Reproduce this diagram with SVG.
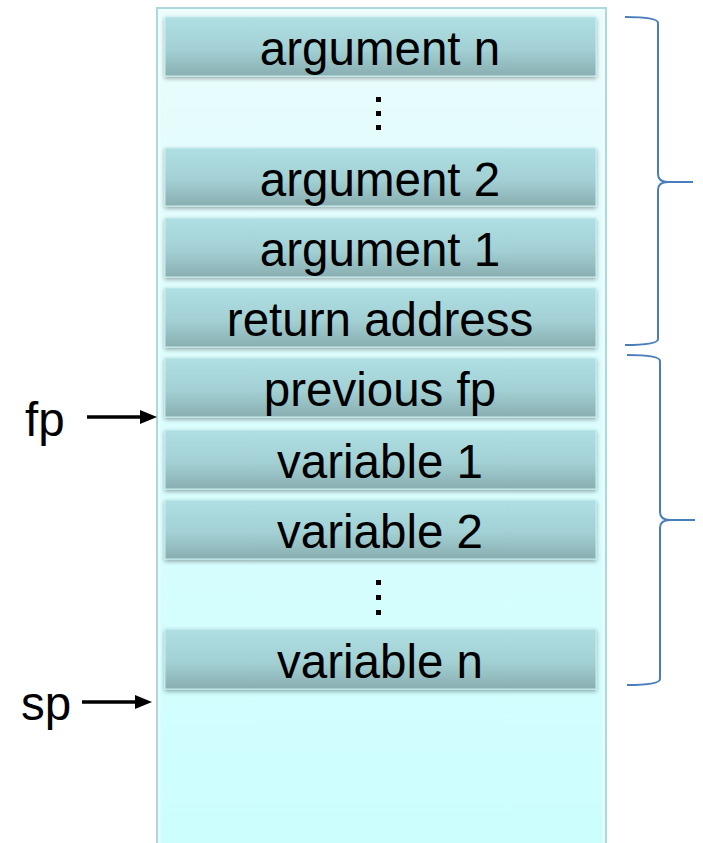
<svg xmlns="http://www.w3.org/2000/svg" width="703" height="843" viewBox="0 0 703 843">
  <defs>
    <linearGradient id="stackFill" x1="0" y1="0" x2="0" y2="1">
      <stop offset="0" stop-color="#eafcfc"/>
      <stop offset="1" stop-color="#ccfefe"/>
    </linearGradient>
    <linearGradient id="slotFill" x1="0" y1="0" x2="0" y2="1">
      <stop offset="0" stop-color="#b0e0e4"/>
      <stop offset="0.55" stop-color="#a2d0d4"/>
      <stop offset="1" stop-color="#89aeb1"/>
    </linearGradient>
    <filter id="slotShadow" x="-5%" y="-20%" width="110%" height="150%">
      <feGaussianBlur in="SourceAlpha" stdDeviation="2"/>
      <feOffset dx="0" dy="2" result="b"/>
      <feComponentTransfer><feFuncA type="linear" slope="0.35"/></feComponentTransfer>
      <feMerge><feMergeNode/><feMergeNode in="SourceGraphic"/></feMerge>
    </filter>
    <!-- pointer head: 17 long, 14 wide; tip sits 10px past the line end -->
    <marker id="arrowHead" viewBox="0 0 17 14" refX="7" refY="7" markerWidth="17" markerHeight="14" markerUnits="userSpaceOnUse" orient="auto">
      <path d="M0,0 L17,7 L0,14 Z" fill="#000"/>
    </marker>
  </defs>
  <style>
    .slot rect { fill: url(#slotFill); stroke: #c8eef0; stroke-width: 1; filter: url(#slotShadow); }
    .slot text, .label { font-family: "Liberation Sans", Arial, sans-serif; font-size: 47.5px; fill: #000; }
    .slot text { text-anchor: middle; }
    .dots rect { fill: #000; }
    .brace { fill: none; stroke: #4a7ebb; stroke-width: 2; }
    .pointer { stroke: #000; stroke-width: 3.5; marker-end: url(#arrowHead); }
  </style>

  <rect width="703" height="843" fill="#fff"/>

  <!-- stack frame column -->
  <g id="stack">
    <rect x="157" y="8" width="449" height="840" fill="url(#stackFill)" stroke="#aed9dc" stroke-width="2"/>
    <rect x="159.5" y="10.5" width="444" height="840" fill="none" stroke="#f4ffff" stroke-width="1.5"/>
  </g>

  <g id="arg-n" class="slot"><rect x="165" y="17" width="431" height="59"/><text x="380" y="65">argument n</text></g>
  <g id="dots-top" class="dots"><rect x="376" y="97" width="5" height="5"/><rect x="376" y="111" width="5" height="5"/><rect x="376" y="125" width="5" height="5"/></g>
  <g id="arg-2" class="slot"><rect x="165" y="148" width="431" height="58"/><text x="380" y="196">argument 2</text></g>
  <g id="arg-1" class="slot"><rect x="165" y="218" width="431" height="59"/><text x="380" y="266">argument 1</text></g>
  <g id="ret-addr" class="slot"><rect x="165" y="288" width="431" height="59"/><text x="380" y="336">return address</text></g>
  <g id="prev-fp" class="slot"><rect x="165" y="358" width="431" height="59"/><text x="380" y="406">previous fp</text></g>
  <g id="var-1" class="slot"><rect x="165" y="430" width="431" height="59"/><text x="380" y="478">variable 1</text></g>
  <g id="var-2" class="slot"><rect x="165" y="500" width="431" height="59"/><text x="380" y="548">variable 2</text></g>
  <g id="dots-bottom" class="dots"><rect x="376" y="580" width="5" height="5"/><rect x="376" y="595" width="5" height="5"/><rect x="376" y="610" width="5" height="5"/></g>
  <g id="var-n" class="slot"><rect x="165" y="629" width="431" height="60"/><text x="380" y="678">variable n</text></g>

  <g id="fp-label"><text class="label" x="25" y="436">fp</text></g>
  <g id="sp-label"><text class="label" x="21" y="720">sp</text></g>

  <g id="connectors">
    <line class="pointer" x1="87" y1="417" x2="147" y2="417"/>
    <line class="pointer" x1="82" y1="702" x2="142" y2="702"/>
    <!-- braces grouping incoming arguments and the local frame -->
    <path class="brace" d="M625,17 Q658,17 658,23 L658,174 Q658,182 668,182 L693,182 M668,182 Q658,182 658,190 L658,339 Q658,345 625,345"/>
    <path class="brace" d="M627,355 Q660,355 660,361 L660,512 Q660,520 670,520 L695,520 M670,520 Q660,520 660,528 L660,679 Q660,685 627,685"/>
  </g>
</svg>
